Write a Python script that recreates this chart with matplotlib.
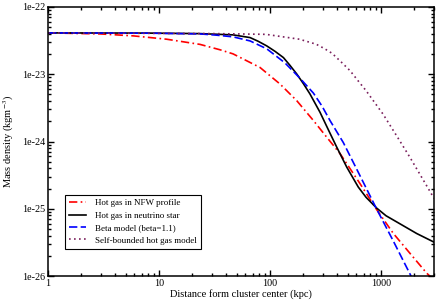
import matplotlib
matplotlib.use("Agg")
import matplotlib.pyplot as plt
from matplotlib.ticker import FixedLocator, LogLocator, FuncFormatter, NullFormatter
import numpy as np

plt.rcParams['font.family'] = ['Liberation Serif', 'DejaVu Serif']
plt.rcParams['mathtext.fontset'] = 'stix'

# --------------------------
# Data (r in kpc, density in kg m^-3)
# --------------------------
r_nfw = [1, 2.94, 5.87, 11.7, 23.4, 35.5, 46.4, 81.3, 123, 174, 246, 324,
         428, 647, 915, 1291, 1824, 2581, 3000]
rho_nfw = [4.12e-23, 3.98e-23, 3.72e-23, 3.32e-23, 2.78e-23, 2.31e-23, 2.01e-23,
           1.26e-23, 7.16e-24, 4.05e-24, 2.05e-24, 1.16e-24, 6.58e-25, 2.36e-25,
           9.67e-26, 4.29e-26, 2.17e-26, 1.10e-26, 8.7e-27]

r_nu = [1, 8.3, 23.4, 46.4, 66.1, 78, 93.4, 111, 132, 151, 174, 200, 229, 282,
        333, 399, 491, 624, 733, 915, 1109, 1384, 2097, 3000]
rho_nu = [4.12e-23, 4.09e-23, 4.02e-23, 3.85e-23, 3.51e-23, 3.10e-23, 2.64e-23,
          2.19e-23, 1.77e-23, 1.36e-23, 1.01e-23, 7.23e-24, 5.09e-24, 2.72e-24,
          1.53e-24, 8.24e-25, 4.16e-25, 2.10e-25, 1.48e-25, 1.02e-25, 7.87e-26,
          6.37e-26, 4.28e-26, 3.19e-26]

r_beta = [1, 8.3, 23.4, 32.6, 46.4, 66.1, 93.4, 136, 186, 246, 294, 347, 457,
          624, 915, 1291, 1862, 2245]
rho_beta = [4.12e-23, 4.08e-23, 3.98e-23, 3.82e-23, 3.60e-23, 3.13e-23, 2.39e-23,
            1.48e-23, 8.73e-24, 5.24e-24, 3.36e-24, 2.05e-24, 9.66e-25, 3.48e-25,
            9.84e-26, 3.30e-26, 1.0e-26, 5.4e-27]

r_self = [1, 32.6, 92, 131, 184, 260, 306, 362, 436, 526, 621, 733, 1043, 1393,
          1824, 2723, 3000]
rho_self = [4.12e-23, 4.02e-23, 3.92e-23, 3.60e-23, 3.32e-23, 2.80e-23, 2.43e-23,
            2.05e-23, 1.53e-23, 1.13e-23, 8.0e-24, 5.70e-24, 2.55e-24, 1.19e-24,
            5.79e-25, 1.88e-25, 1.43e-25]

labels = ["Hot gas in NFW profile", "Hot gas in neutrino star",
          "Beta model (beta=1.1)", "Self-bounded hot gas model"]
x_ticks = [1, 10, 100, 1000]
y_ticks = [1e-26, 1e-25, 1e-24, 1e-23, 1e-22]

# --------------------------
# Plot
# --------------------------
fig = plt.figure(figsize=(4.36, 3.02), dpi=100)
ax = fig.add_axes([48/436, 26/302, 386/436, 269/302])

lw = 1.2
ax.plot(r_nfw, rho_nfw, color='#ff0000', lw=lw, dashes=(5, 2, 1, 2), label=labels[0])
ax.plot(r_nu, rho_nu, color='black', lw=lw, label=labels[1])
ax.plot(r_beta, rho_beta, color='#0000ff', lw=lw, dashes=(5, 2), label=labels[2])
ax.plot(r_self, rho_self, color='#7a1f5c', lw=lw, dashes=(1, 2), label=labels[3])

ax.set_xscale('log')
ax.set_yscale('log')
ax.set_xlim(1, 3000)
ax.set_ylim(1e-26, 1e-22)

ax.xaxis.set_major_locator(FixedLocator(x_ticks))
ax.yaxis.set_major_locator(FixedLocator(y_ticks))
ax.xaxis.set_minor_locator(LogLocator(base=10, subs=np.arange(2, 10)))
ax.yaxis.set_minor_locator(LogLocator(base=10, subs=np.arange(2, 10)))
ax.xaxis.set_major_formatter(FuncFormatter(lambda v, p: f"{v:g}"))
ax.yaxis.set_major_formatter(FuncFormatter(lambda v, p: f"1e{int(round(np.log10(v)))}"))
ax.xaxis.set_minor_formatter(NullFormatter())
ax.yaxis.set_minor_formatter(NullFormatter())

ax.tick_params(which='both', direction='in', top=True, right=True, labelsize=7.3, width=1)
ax.tick_params(which='major', length=4.5, pad=2)
ax.tick_params(which='minor', length=2.5)
for s in ax.spines.values():
    s.set_linewidth(1.1)

ax.set_xlabel('Distance form cluster center (kpc)', fontsize=7.5, labelpad=1)
ax.set_ylabel(r'Mass density (kgm$^{-3}$)', fontsize=7.5, labelpad=4)

leg = ax.legend(loc='lower left', bbox_to_anchor=(0.044, 0.1), borderaxespad=0,
                fontsize=6.5, handlelength=1.8, handletextpad=1.0, labelspacing=0.45,
                borderpad=0.5, fancybox=False, framealpha=1)
leg.get_frame().set_edgecolor('black')
leg.get_frame().set_linewidth(0.8)

fig.savefig('out.png', dpi=100)
